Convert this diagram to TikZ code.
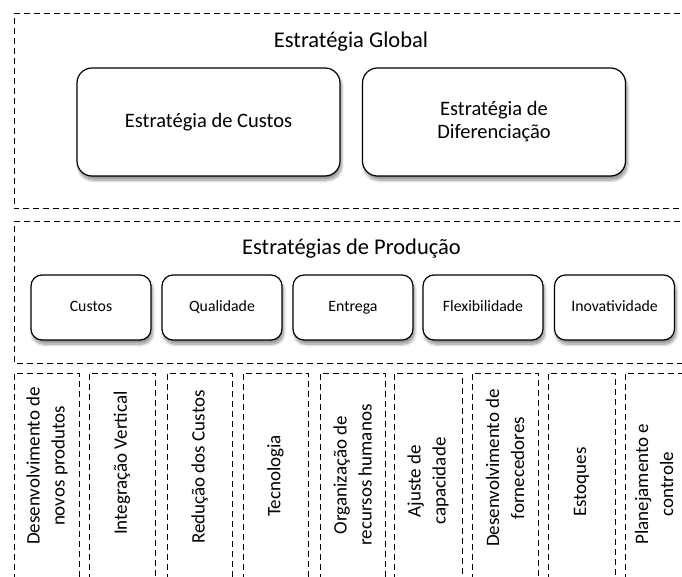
\documentclass[tikz,border=0pt]{standalone}
\usepackage{fontspec}
\setmainfont{Carlito}
\usetikzlibrary{shadows.blur}
\begin{document}
\begin{tikzpicture}[x=1pt,y=-1pt,
  frame/.style={draw=black, line width=1pt, dash pattern=on 6pt off 4pt},
  title/.style={font=\fontsize{22.5}{27}\selectfont},
  boxshadow/.style={blur shadow={shadow xshift=1.5pt, shadow yshift=-4pt, shadow blur radius=3pt, shadow blur steps=8, shadow opacity=45}},
  bigbox/.style={draw=black, line width=1.2pt, rounded corners=15pt, fill=white,
    minimum width=263pt, minimum height=108pt, align=center,
    font=\fontsize{20.5}{23}\selectfont, boxshadow},
  smallbox/.style={draw=black, line width=1.2pt, rounded corners=11pt, fill=white,
    minimum width=120pt, minimum height=65pt, text height=11pt, text depth=3pt,
    font=\fontsize{15.8}{18}\selectfont, boxshadow},
  coltext/.style={rotate=90, align=center, font=\fontsize{19}{25}\selectfont}]
\useasboundingbox (0,0) rectangle (682,577);
\clip (0,0) rectangle (682,577);

% global strategy layer
\draw[frame] (700,14) -- (14,14) -- (14,209) -- (700,209);
\node[title] (global) at (351,42) {Estratégia Global};
\node[bigbox] (custos) at (208.5,122) {Estratégia de Custos};
\node[bigbox] (difer) at (494,122) {Estratégia de\\Diferenciação};

% production strategy layer
\draw[frame] (700,222) -- (14,222) -- (14,363) -- (700,363);
\node[title] (producao) at (351.5,249) {Estratégias de Produção};
\node[smallbox] (p1) at (91,307.5) {Custos};
\node[smallbox] (p2) at (222,307.5) {Qualidade};
\node[smallbox] (p3) at (353,307.5) {Entrega};
\node[smallbox] (p4) at (483,307.5) {Flexibilidade};
\node[smallbox] (p5) at (614.5,307.5) {Inovatividade};

% decision areas
\foreach \l/\r in {14/79, 89/155, 167/232, 243/308, 320/385, 394/462, 472/538, 548/615, 625/700}
  \draw[frame] (\l,600) -- (\l,373) -- (\r,373) -- (\r,600);
\node[coltext] (d1) at (47,466) {Desenvolvimento de\\novos produtos};
\node[coltext] (d2) at (122,463) {Integração Vertical};
\node[coltext] (d3) at (199.5,467) {Redução dos Custos};
\node[coltext] (d4) at (275.5,476) {Tecnologia};
\node[coltext] (d5) at (352.5,475) {Organização de\\recursos humanos};
\node[coltext] (d6) at (428,481) {Ajuste de\\capacidade};
\node[coltext] (d7) at (505,468) {Desenvolvimento de\\fornecedores};
\node[coltext] (d8) at (581.5,482) {Estoques};
\node[coltext] (d9) at (654,484) {Planejamento e\\controle};
\end{tikzpicture}
\end{document}
